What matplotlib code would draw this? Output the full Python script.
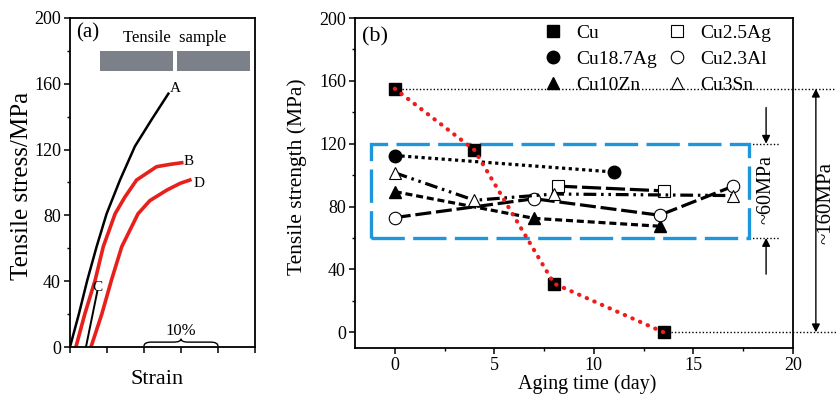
import numpy as np
import matplotlib.pyplot as plt
from matplotlib.patches import Rectangle, PathPatch
from matplotlib.path import Path
from matplotlib.lines import Line2D
from matplotlib.ticker import MultipleLocator

plt.rcParams['font.family'] = ['Liberation Serif', 'DejaVu Serif']

# (a) stress-strain curves (strain in %, stress in MPa)
strain_A = [0, 1.2, 2.34, 3.6, 4.95, 6.76, 8.78, 11.0, 13.3]
stress_A = [0, 20, 40.6, 61, 81, 101.5, 122, 138, 154]
strain_B = [0.8, 2.0, 3.4, 4.5, 6.1, 7.4, 9.0, 11.7, 13.5, 15.1]
stress_B = [0, 20, 40.6, 61, 81, 91, 101.5, 109.6, 111, 112]
strain_C = [2.16, 3.7]
stress_C = [0, 34]
strain_D = [2.84, 4.3, 5.6, 7.0, 9.2, 10.8, 13.1, 14.9, 16.2]
stress_D = [0, 20, 40.6, 61, 81, 89, 95.4, 99.5, 101.5]

# (b) tensile strength vs aging time
days_Cu = [0, 4, 8, 13.5]
ts_Cu = [155, 116, 31, 0]
days_Cu187Ag = [0, 11]
ts_Cu187Ag = [112.5, 102]
days_Cu10Zn = [0, 7, 13.3]
ts_Cu10Zn = [89.5, 72.5, 67.5]
days_Cu25Ag = [8.2, 13.5]
ts_Cu25Ag = [93, 90]
days_Cu23Al = [0, 7, 13.3, 17]
ts_Cu23Al = [73, 85, 74.5, 93]
days_Cu3Sn = [0, 4, 8, 17]
ts_Cu3Sn = [101.5, 84, 88, 87]

box_x = [-1.2, 17.8]
box_y = [60, 120]


def brace(ax, x0, x1, y0, h, d):
    xm = (x0 + x1) / 2
    hm = h * 0.55
    verts = [(x0, y0), (x0, y0 + hm), (x0 + d, y0 + hm),
             (xm - d, y0 + hm), (xm, y0 + hm), (xm, y0 + h),
             (xm, y0 + hm), (xm + d, y0 + hm),
             (x1 - d, y0 + hm), (x1, y0 + hm), (x1, y0)]
    codes = [Path.MOVETO, Path.CURVE3, Path.CURVE3,
             Path.LINETO, Path.CURVE3, Path.CURVE3,
             Path.CURVE3, Path.CURVE3,
             Path.LINETO, Path.CURVE3, Path.CURVE3]
    ax.add_patch(PathPatch(Path(verts, codes), fill=False, lw=1.0, color='k'))


def style(ax):
    for s in ax.spines.values():
        s.set_linewidth(1.3)
    ax.tick_params(which='major', direction='out', length=4, width=1.1, labelsize=13, pad=2.5)
    ax.tick_params(which='minor', direction='out', length=2.5, width=1.0)


fig = plt.figure(figsize=(8.37, 3.95), dpi=100)

# ---------------- (a)
axA = fig.add_axes([0.0836, 0.1215, 0.221, 0.833])
axA.plot(strain_A, stress_A, color='k', lw=1.8)
axA.plot(strain_B, stress_B, color='#e8201c', lw=2.6)
axA.plot(strain_C, stress_C, color='k', lw=1.4)
axA.plot(strain_D, stress_D, color='#e8201c', lw=2.6)
axA.text(14.3, 157, 'A', fontsize=11, ha='center', va='center')
axA.text(16.0, 112.5, 'B', fontsize=11, ha='center', va='center')
axA.text(3.7, 36, 'C', fontsize=11, ha='center', va='center')
axA.text(17.4, 99.5, 'D', fontsize=11, ha='center', va='center')
axA.text(2.45, 191, '(a)', fontsize=15, ha='center', va='center')
axA.text(14.2, 188, 'Tensile  sample', fontsize=12, ha='center', va='center')
axA.add_patch(Rectangle((4.05, 167.5), 13.9 - 4.05, 12.2, color='#7b8089', lw=0))
axA.add_patch(Rectangle((14.4, 167.5), 24.3 - 14.4, 12.2, color='#7b8089', lw=0))
brace(axA, 10, 20, 0.5, 4.5, 1.0)
axA.text(15, 9.5, '10%', fontsize=12, ha='center', va='center')
axA.set_xlim(0, 25)
axA.set_ylim(0, 200)
axA.xaxis.set_major_locator(MultipleLocator(5))
axA.set_xticklabels([])
axA.yaxis.set_major_locator(MultipleLocator(40))
axA.yaxis.set_minor_locator(MultipleLocator(20))
style(axA)
axA.set_xlabel('Strain', fontsize=16)
axA.xaxis.set_label_coords(0.47, -0.07)
axA.set_ylabel('Tensile stress/MPa', fontsize=18)
axA.yaxis.set_label_coords(-0.2, 0.49)

# ---------------- (b)
axB = fig.add_axes([0.4241, 0.119, 0.5233, 0.8354])
ms = 9
axB.plot(days_Cu187Ag, ts_Cu187Ag, color='k', lw=2.3, ls=(0, (1, 1.1)),
         marker='o', ms=ms, zorder=3)
axB.plot(days_Cu10Zn, ts_Cu10Zn, color='k', lw=2.3, ls=(0, (2.2, 1.2)),
         marker='^', ms=ms, zorder=3)
axB.plot(days_Cu25Ag, ts_Cu25Ag, color='k', lw=2.3, ls=(0, (6, 1.5)),
         marker='s', ms=ms, mfc='white', mew=0.8, zorder=3)
axB.plot(days_Cu23Al, ts_Cu23Al, color='k', lw=2.3, ls=(0, (5, 1.5)),
         marker='o', ms=ms, mfc='white', mew=0.8, zorder=3)
axB.plot(days_Cu3Sn, ts_Cu3Sn, color='k', lw=2.3, ls=(0, (4, 1.5, 0.8, 1.5, 0.8, 1.5)),
         marker='^', ms=ms, mfc='white', mew=0.8, zorder=3)
axB.plot(days_Cu, ts_Cu, 's', color='k', ms=ms, zorder=4)
axB.plot(days_Cu, ts_Cu, color='#ee1c1c', lw=3, ls=(0, (0.1, 1.9)),
         dash_capstyle='round', zorder=5)

axB.add_patch(Rectangle((box_x[0], box_y[0]), box_x[1] - box_x[0], box_y[1] - box_y[0],
                        fill=False, ec='#1e96dc', lw=2.4, ls=(0, (10, 2.5)), zorder=2))

# guide lines and arrows
guide_long = 22.4
guide_short = 19.35
dot = dict(color='k', lw=1.0, ls=(0, (1, 1.5)), clip_on=False, zorder=1)
axB.plot([days_Cu[0], guide_long], [ts_Cu[0], ts_Cu[0]], **dot)
axB.plot([days_Cu[-1], guide_long], [ts_Cu[-1], ts_Cu[-1]], **dot)
axB.plot([box_x[1], guide_short], [box_y[1], box_y[1]], **dot)
axB.plot([box_x[1], guide_short], [box_y[0], box_y[0]], **dot)
ap = dict(arrowstyle='-|>', color='k', lw=1.0, mutation_scale=12, shrinkA=0, shrinkB=0)
axB.annotate('', xy=(18.65, box_y[1]), xytext=(18.65, 143), arrowprops=ap, annotation_clip=False)
axB.annotate('', xy=(18.65, box_y[0]), xytext=(18.65, 37), arrowprops=ap, annotation_clip=False)
axB.annotate('', xy=(21.15, ts_Cu[0]), xytext=(21.15, ts_Cu[-1]),
             arrowprops=dict(ap, arrowstyle='<|-|>'), annotation_clip=False)
axB.text(18.65, 91, '~60MPa', rotation=90, fontsize=14.5, ha='center', va='center')
axB.text(21.65, 82, '~160MPa', rotation=90, fontsize=15, ha='center', va='center', clip_on=False)
axB.text(-1.0, 188, '(b)', fontsize=16, ha='center', va='center')

handles = [
    Line2D([], [], ls='none', marker='s', color='k', ms=ms),
    Line2D([], [], ls='none', marker='o', color='k', ms=ms),
    Line2D([], [], ls='none', marker='^', color='k', ms=ms),
    Line2D([], [], ls='none', marker='s', color='k', mfc='white', mew=0.8, ms=ms),
    Line2D([], [], ls='none', marker='o', color='k', mfc='white', mew=0.8, ms=ms),
    Line2D([], [], ls='none', marker='^', color='k', mfc='white', mew=0.8, ms=ms),
]
labels = ['Cu', 'Cu18.7Ag', 'Cu10Zn', 'Cu2.5Ag', 'Cu2.3Al', 'Cu3Sn']
axB.legend(handles, labels, ncol=2, loc='upper left', bbox_to_anchor=(0.43, 0.98),
           frameon=False, fontsize=14, borderpad=0, borderaxespad=0,
           handlelength=1.0, handletextpad=0.7, columnspacing=0.5, labelspacing=0.42)

axB.set_xlim(-2, 20)
axB.set_ylim(-10, 200)
axB.xaxis.set_major_locator(MultipleLocator(5))
axB.xaxis.set_minor_locator(MultipleLocator(2.5))
axB.yaxis.set_major_locator(MultipleLocator(40))
axB.yaxis.set_minor_locator(MultipleLocator(20))
style(axB)
axB.set_xlabel('Aging time (day)', fontsize=14.5)
axB.xaxis.set_label_coords(0.53, -0.08)
axB.set_ylabel('Tensile strength (MPa)', fontsize=15.5)
axB.yaxis.set_label_coords(-0.11, 0.52)

fig.savefig('out.png', dpi=100)
